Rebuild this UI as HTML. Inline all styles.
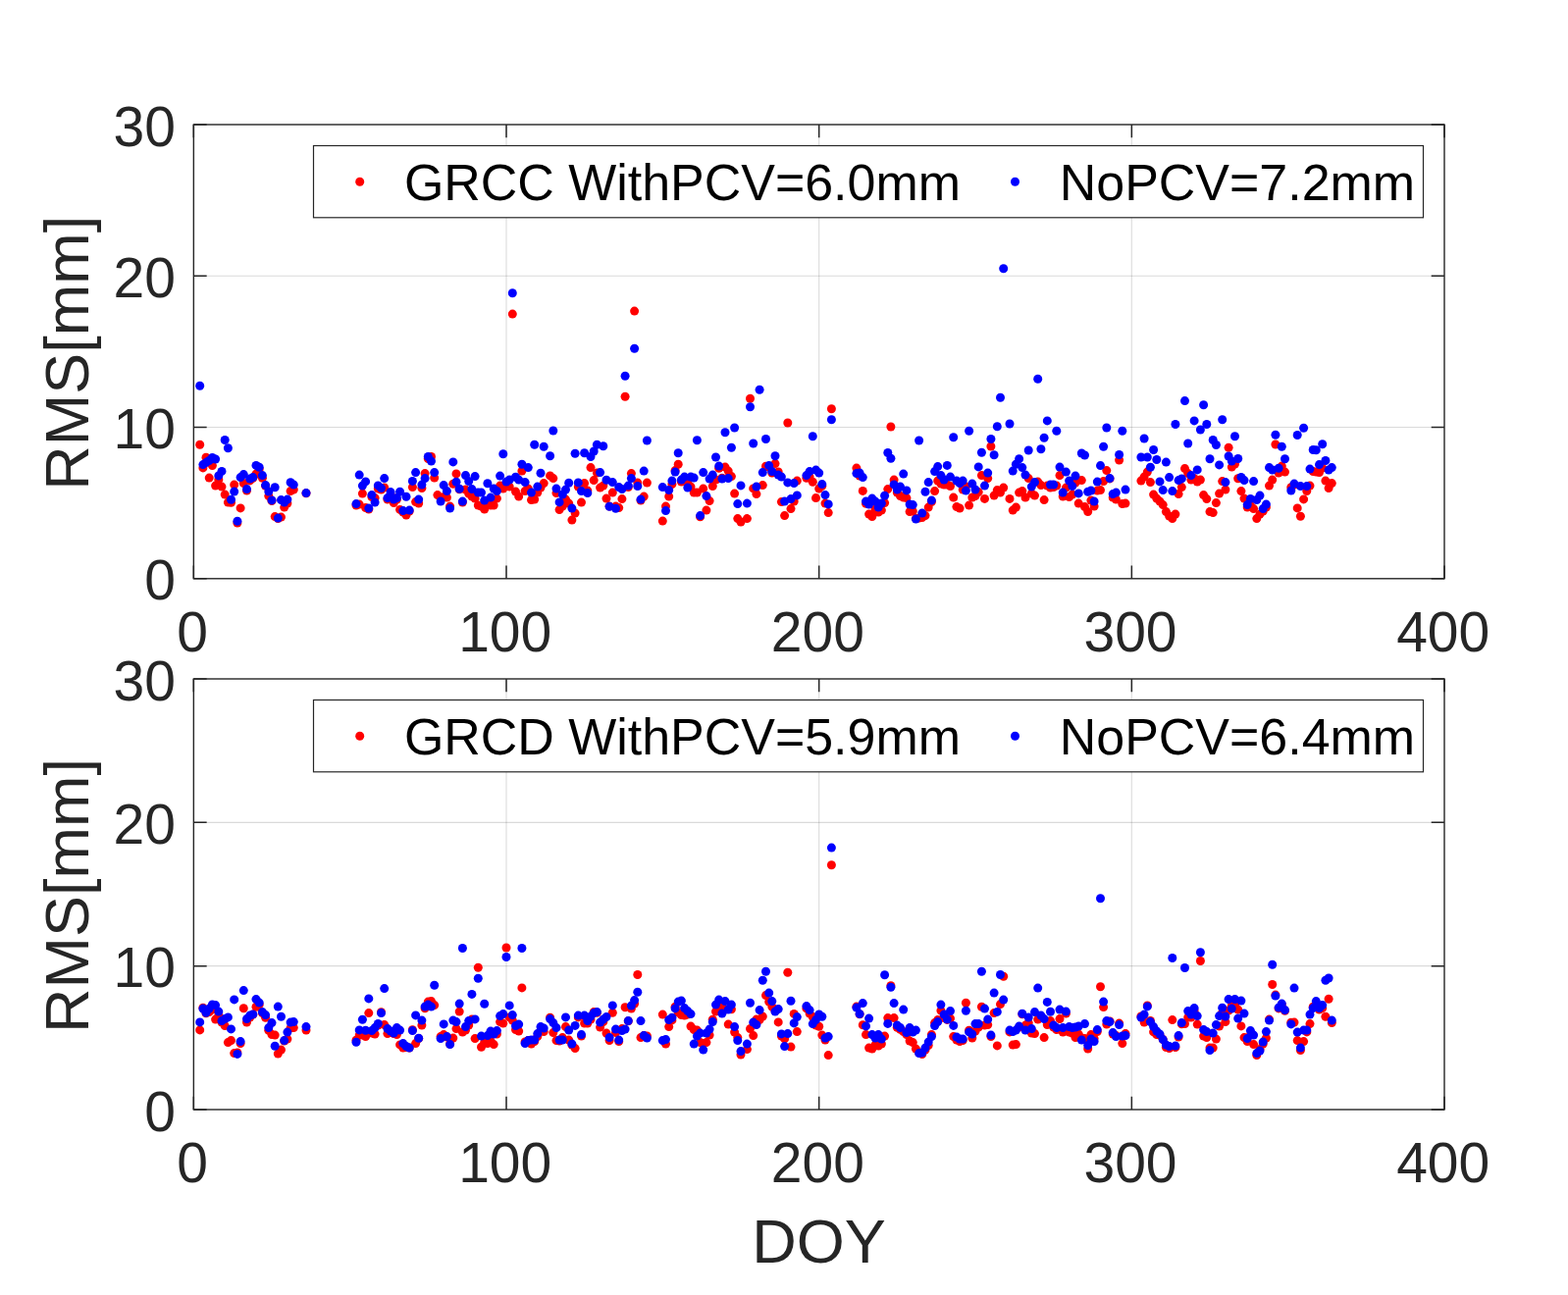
<!DOCTYPE html>
<html lang="en"><head><meta charset="utf-8"><title>RMS vs DOY</title>
<style>html,body{margin:0;padding:0;background:#fff;overflow:hidden;}svg{display:block;}text{font-family:"Liberation Sans", sans-serif;}.tk{font-size:57px;fill:#262626;}.lb{font-size:63px;fill:#262626;}.lg{font-size:51.95px;fill:#000;}.r{fill:#ff0000;}.b{fill:#0000ff;}</style></head><body>
<svg width="1598" height="1320" viewBox="0 0 1598 1320">
<rect x="0" y="0" width="1598" height="1320" fill="#ffffff"/>
<g>
<path d="M516.01 127.00 V589.80 M834.68 127.00 V589.80 M1153.34 127.00 V589.80" stroke="#262626" stroke-opacity="0.15" stroke-width="1.2" fill="none"/>
<path d="M197.35 435.53 H1472.00 M197.35 281.27 H1472.00" stroke="#262626" stroke-opacity="0.17" stroke-width="1.1" fill="none"/>
<g class="r"><circle cx="203.7" cy="453.3" r="4.5"/><circle cx="206.9" cy="476.9" r="4.5"/><circle cx="210.0" cy="466.2" r="4.5"/><circle cx="213.2" cy="487.1" r="4.5"/><circle cx="216.4" cy="474.6" r="4.5"/><circle cx="219.6" cy="495.1" r="4.5"/><circle cx="222.8" cy="488.9" r="4.5"/><circle cx="226.0" cy="496.1" r="4.5"/><circle cx="229.2" cy="504.1" r="4.5"/><circle cx="232.4" cy="512.1" r="4.5"/><circle cx="235.5" cy="512.3" r="4.5"/><circle cx="238.7" cy="494.1" r="4.5"/><circle cx="241.9" cy="533.1" r="4.5"/><circle cx="245.1" cy="517.9" r="4.5"/><circle cx="248.3" cy="492.6" r="4.5"/><circle cx="251.5" cy="500.1" r="4.5"/><circle cx="254.7" cy="489.9" r="4.5"/><circle cx="257.8" cy="487.3" r="4.5"/><circle cx="261.0" cy="483.1" r="4.5"/><circle cx="264.2" cy="478.1" r="4.5"/><circle cx="267.4" cy="487.3" r="4.5"/><circle cx="270.6" cy="495.3" r="4.5"/><circle cx="273.8" cy="505.6" r="4.5"/><circle cx="277.0" cy="510.6" r="4.5"/><circle cx="280.2" cy="526.6" r="4.5"/><circle cx="283.3" cy="528.6" r="4.5"/><circle cx="286.5" cy="527.1" r="4.5"/><circle cx="289.7" cy="517.1" r="4.5"/><circle cx="292.9" cy="513.1" r="4.5"/><circle cx="296.1" cy="500.6" r="4.5"/><circle cx="299.3" cy="499.1" r="4.5"/><circle cx="312.0" cy="502.8" r="4.5"/><circle cx="363.0" cy="515.1" r="4.5"/><circle cx="366.2" cy="514.1" r="4.5"/><circle cx="369.4" cy="503.1" r="4.5"/><circle cx="372.6" cy="517.6" r="4.5"/><circle cx="375.8" cy="519.1" r="4.5"/><circle cx="378.9" cy="506.6" r="4.5"/><circle cx="382.1" cy="507.6" r="4.5"/><circle cx="385.3" cy="498.1" r="4.5"/><circle cx="388.5" cy="499.1" r="4.5"/><circle cx="391.7" cy="496.9" r="4.5"/><circle cx="394.9" cy="509.1" r="4.5"/><circle cx="398.1" cy="504.1" r="4.5"/><circle cx="401.3" cy="512.6" r="4.5"/><circle cx="404.4" cy="509.1" r="4.5"/><circle cx="407.6" cy="519.4" r="4.5"/><circle cx="410.8" cy="522.1" r="4.5"/><circle cx="414.0" cy="525.1" r="4.5"/><circle cx="417.2" cy="521.1" r="4.5"/><circle cx="420.4" cy="496.6" r="4.5"/><circle cx="423.6" cy="511.6" r="4.5"/><circle cx="426.7" cy="513.1" r="4.5"/><circle cx="429.9" cy="497.6" r="4.5"/><circle cx="433.1" cy="482.6" r="4.5"/><circle cx="436.3" cy="467.5" r="4.5"/><circle cx="439.5" cy="465.5" r="4.5"/><circle cx="442.7" cy="487.1" r="4.5"/><circle cx="445.9" cy="504.6" r="4.5"/><circle cx="449.1" cy="507.6" r="4.5"/><circle cx="452.2" cy="506.6" r="4.5"/><circle cx="455.4" cy="507.1" r="4.5"/><circle cx="458.6" cy="516.1" r="4.5"/><circle cx="461.8" cy="493.3" r="4.5"/><circle cx="465.0" cy="482.9" r="4.5"/><circle cx="468.2" cy="498.7" r="4.5"/><circle cx="471.4" cy="512.1" r="4.5"/><circle cx="474.5" cy="499.1" r="4.5"/><circle cx="477.7" cy="503.1" r="4.5"/><circle cx="480.9" cy="506.1" r="4.5"/><circle cx="484.1" cy="508.1" r="4.5"/><circle cx="487.3" cy="515.1" r="4.5"/><circle cx="490.5" cy="516.1" r="4.5"/><circle cx="493.7" cy="519.1" r="4.5"/><circle cx="496.9" cy="514.1" r="4.5"/><circle cx="500.0" cy="515.1" r="4.5"/><circle cx="503.2" cy="515.1" r="4.5"/><circle cx="506.4" cy="508.1" r="4.5"/><circle cx="509.6" cy="495.1" r="4.5"/><circle cx="512.8" cy="498.1" r="4.5"/><circle cx="516.0" cy="494.1" r="4.5"/><circle cx="519.2" cy="496.1" r="4.5"/><circle cx="522.3" cy="320.1" r="4.5"/><circle cx="525.5" cy="501.1" r="4.5"/><circle cx="528.7" cy="506.1" r="4.5"/><circle cx="531.9" cy="480.1" r="4.5"/><circle cx="535.1" cy="500.6" r="4.5"/><circle cx="538.3" cy="498.1" r="4.5"/><circle cx="541.5" cy="509.6" r="4.5"/><circle cx="544.7" cy="509.1" r="4.5"/><circle cx="547.8" cy="502.1" r="4.5"/><circle cx="551.0" cy="497.1" r="4.5"/><circle cx="554.2" cy="492.6" r="4.5"/><circle cx="560.6" cy="484.9" r="4.5"/><circle cx="563.8" cy="487.6" r="4.5"/><circle cx="567.0" cy="502.6" r="4.5"/><circle cx="570.1" cy="519.6" r="4.5"/><circle cx="573.3" cy="516.1" r="4.5"/><circle cx="576.5" cy="509.1" r="4.5"/><circle cx="579.7" cy="513.1" r="4.5"/><circle cx="582.9" cy="530.1" r="4.5"/><circle cx="586.1" cy="523.1" r="4.5"/><circle cx="589.3" cy="496.1" r="4.5"/><circle cx="592.5" cy="512.1" r="4.5"/><circle cx="595.6" cy="492.6" r="4.5"/><circle cx="598.8" cy="500.1" r="4.5"/><circle cx="602.0" cy="476.6" r="4.5"/><circle cx="605.2" cy="489.6" r="4.5"/><circle cx="608.4" cy="482.1" r="4.5"/><circle cx="611.6" cy="497.1" r="4.5"/><circle cx="614.8" cy="495.1" r="4.5"/><circle cx="618.0" cy="508.1" r="4.5"/><circle cx="621.1" cy="516.1" r="4.5"/><circle cx="624.3" cy="502.1" r="4.5"/><circle cx="627.5" cy="516.1" r="4.5"/><circle cx="630.7" cy="517.6" r="4.5"/><circle cx="633.9" cy="508.6" r="4.5"/><circle cx="637.1" cy="404.2" r="4.5"/><circle cx="640.3" cy="496.6" r="4.5"/><circle cx="643.4" cy="482.6" r="4.5"/><circle cx="646.6" cy="317.1" r="4.5"/><circle cx="649.8" cy="492.1" r="4.5"/><circle cx="653.0" cy="510.1" r="4.5"/><circle cx="656.2" cy="506.1" r="4.5"/><circle cx="659.4" cy="492.1" r="4.5"/><circle cx="675.3" cy="531.1" r="4.5"/><circle cx="678.5" cy="516.1" r="4.5"/><circle cx="681.7" cy="506.1" r="4.5"/><circle cx="684.9" cy="493.6" r="4.5"/><circle cx="688.1" cy="479.6" r="4.5"/><circle cx="691.2" cy="473.3" r="4.5"/><circle cx="694.4" cy="491.1" r="4.5"/><circle cx="697.6" cy="490.1" r="4.5"/><circle cx="700.8" cy="492.6" r="4.5"/><circle cx="704.0" cy="496.1" r="4.5"/><circle cx="707.2" cy="502.1" r="4.5"/><circle cx="710.4" cy="502.1" r="4.5"/><circle cx="713.6" cy="526.8" r="4.5"/><circle cx="716.7" cy="498.1" r="4.5"/><circle cx="719.9" cy="520.1" r="4.5"/><circle cx="723.1" cy="510.6" r="4.5"/><circle cx="726.3" cy="495.6" r="4.5"/><circle cx="729.5" cy="489.1" r="4.5"/><circle cx="732.7" cy="477.3" r="4.5"/><circle cx="735.9" cy="487.3" r="4.5"/><circle cx="739.0" cy="476.1" r="4.5"/><circle cx="742.2" cy="480.1" r="4.5"/><circle cx="745.4" cy="485.6" r="4.5"/><circle cx="748.6" cy="503.1" r="4.5"/><circle cx="751.8" cy="528.6" r="4.5"/><circle cx="755.0" cy="532.1" r="4.5"/><circle cx="761.4" cy="528.6" r="4.5"/><circle cx="764.5" cy="406.2" r="4.5"/><circle cx="767.7" cy="497.9" r="4.5"/><circle cx="770.9" cy="503.6" r="4.5"/><circle cx="777.3" cy="494.6" r="4.5"/><circle cx="780.5" cy="475.3" r="4.5"/><circle cx="783.7" cy="476.1" r="4.5"/><circle cx="786.8" cy="482.1" r="4.5"/><circle cx="790.0" cy="472.6" r="4.5"/><circle cx="793.2" cy="480.9" r="4.5"/><circle cx="796.4" cy="511.6" r="4.5"/><circle cx="799.6" cy="525.6" r="4.5"/><circle cx="802.8" cy="431.0" r="4.5"/><circle cx="806.0" cy="518.6" r="4.5"/><circle cx="809.2" cy="511.1" r="4.5"/><circle cx="812.3" cy="490.1" r="4.5"/><circle cx="821.9" cy="487.3" r="4.5"/><circle cx="825.1" cy="486.1" r="4.5"/><circle cx="828.3" cy="491.3" r="4.5"/><circle cx="831.5" cy="507.6" r="4.5"/><circle cx="834.7" cy="498.1" r="4.5"/><circle cx="837.8" cy="495.3" r="4.5"/><circle cx="841.0" cy="513.1" r="4.5"/><circle cx="844.2" cy="522.6" r="4.5"/><circle cx="847.4" cy="416.8" r="4.5"/><circle cx="872.9" cy="477.1" r="4.5"/><circle cx="876.1" cy="485.1" r="4.5"/><circle cx="879.3" cy="500.4" r="4.5"/><circle cx="882.5" cy="513.3" r="4.5"/><circle cx="885.6" cy="524.1" r="4.5"/><circle cx="888.8" cy="526.6" r="4.5"/><circle cx="892.0" cy="519.1" r="4.5"/><circle cx="895.2" cy="522.1" r="4.5"/><circle cx="898.4" cy="520.1" r="4.5"/><circle cx="901.6" cy="512.6" r="4.5"/><circle cx="904.8" cy="498.6" r="4.5"/><circle cx="907.9" cy="435.0" r="4.5"/><circle cx="911.1" cy="489.1" r="4.5"/><circle cx="914.3" cy="502.1" r="4.5"/><circle cx="917.5" cy="505.6" r="4.5"/><circle cx="920.7" cy="507.1" r="4.5"/><circle cx="923.9" cy="507.6" r="4.5"/><circle cx="927.1" cy="521.6" r="4.5"/><circle cx="930.3" cy="521.1" r="4.5"/><circle cx="933.4" cy="528.6" r="4.5"/><circle cx="936.6" cy="528.1" r="4.5"/><circle cx="939.8" cy="527.6" r="4.5"/><circle cx="943.0" cy="525.6" r="4.5"/><circle cx="946.2" cy="517.1" r="4.5"/><circle cx="949.4" cy="511.6" r="4.5"/><circle cx="952.6" cy="500.6" r="4.5"/><circle cx="955.7" cy="490.1" r="4.5"/><circle cx="958.9" cy="493.1" r="4.5"/><circle cx="962.1" cy="494.1" r="4.5"/><circle cx="965.3" cy="494.1" r="4.5"/><circle cx="968.5" cy="495.6" r="4.5"/><circle cx="971.7" cy="507.1" r="4.5"/><circle cx="974.9" cy="516.6" r="4.5"/><circle cx="978.1" cy="518.1" r="4.5"/><circle cx="981.2" cy="499.1" r="4.5"/><circle cx="984.4" cy="496.1" r="4.5"/><circle cx="987.6" cy="515.1" r="4.5"/><circle cx="990.8" cy="507.1" r="4.5"/><circle cx="994.0" cy="505.6" r="4.5"/><circle cx="997.2" cy="501.6" r="4.5"/><circle cx="1000.4" cy="484.6" r="4.5"/><circle cx="1003.5" cy="508.4" r="4.5"/><circle cx="1006.7" cy="487.6" r="4.5"/><circle cx="1009.9" cy="455.0" r="4.5"/><circle cx="1013.1" cy="505.1" r="4.5"/><circle cx="1016.3" cy="499.6" r="4.5"/><circle cx="1019.5" cy="502.1" r="4.5"/><circle cx="1022.7" cy="497.1" r="4.5"/><circle cx="1029.0" cy="508.4" r="4.5"/><circle cx="1032.2" cy="520.1" r="4.5"/><circle cx="1035.4" cy="517.1" r="4.5"/><circle cx="1038.6" cy="502.1" r="4.5"/><circle cx="1041.8" cy="500.6" r="4.5"/><circle cx="1045.0" cy="507.1" r="4.5"/><circle cx="1048.2" cy="487.6" r="4.5"/><circle cx="1051.3" cy="503.1" r="4.5"/><circle cx="1054.5" cy="505.1" r="4.5"/><circle cx="1057.7" cy="491.1" r="4.5"/><circle cx="1060.9" cy="494.6" r="4.5"/><circle cx="1064.1" cy="509.6" r="4.5"/><circle cx="1067.3" cy="495.1" r="4.5"/><circle cx="1070.5" cy="497.1" r="4.5"/><circle cx="1073.7" cy="496.6" r="4.5"/><circle cx="1076.8" cy="495.1" r="4.5"/><circle cx="1080.0" cy="484.6" r="4.5"/><circle cx="1083.2" cy="506.1" r="4.5"/><circle cx="1086.4" cy="497.1" r="4.5"/><circle cx="1089.6" cy="506.6" r="4.5"/><circle cx="1092.8" cy="504.1" r="4.5"/><circle cx="1096.0" cy="492.1" r="4.5"/><circle cx="1099.2" cy="513.1" r="4.5"/><circle cx="1102.3" cy="489.6" r="4.5"/><circle cx="1105.5" cy="516.6" r="4.5"/><circle cx="1108.7" cy="521.6" r="4.5"/><circle cx="1111.9" cy="510.1" r="4.5"/><circle cx="1115.1" cy="516.1" r="4.5"/><circle cx="1118.3" cy="500.1" r="4.5"/><circle cx="1121.5" cy="499.6" r="4.5"/><circle cx="1124.6" cy="490.6" r="4.5"/><circle cx="1127.8" cy="479.6" r="4.5"/><circle cx="1131.0" cy="487.9" r="4.5"/><circle cx="1134.2" cy="507.1" r="4.5"/><circle cx="1137.4" cy="509.1" r="4.5"/><circle cx="1140.6" cy="469.0" r="4.5"/><circle cx="1143.8" cy="513.6" r="4.5"/><circle cx="1147.0" cy="513.1" r="4.5"/><circle cx="1162.9" cy="490.1" r="4.5"/><circle cx="1166.1" cy="486.1" r="4.5"/><circle cx="1169.3" cy="481.1" r="4.5"/><circle cx="1172.4" cy="491.6" r="4.5"/><circle cx="1175.6" cy="504.1" r="4.5"/><circle cx="1178.8" cy="508.1" r="4.5"/><circle cx="1182.0" cy="511.1" r="4.5"/><circle cx="1185.2" cy="514.6" r="4.5"/><circle cx="1188.4" cy="521.6" r="4.5"/><circle cx="1191.6" cy="526.1" r="4.5"/><circle cx="1194.8" cy="528.6" r="4.5"/><circle cx="1197.9" cy="524.1" r="4.5"/><circle cx="1201.1" cy="503.6" r="4.5"/><circle cx="1204.3" cy="496.6" r="4.5"/><circle cx="1207.5" cy="477.6" r="4.5"/><circle cx="1210.7" cy="482.6" r="4.5"/><circle cx="1213.9" cy="489.1" r="4.5"/><circle cx="1217.1" cy="487.6" r="4.5"/><circle cx="1220.2" cy="491.1" r="4.5"/><circle cx="1223.4" cy="489.1" r="4.5"/><circle cx="1226.6" cy="504.6" r="4.5"/><circle cx="1229.8" cy="508.6" r="4.5"/><circle cx="1233.0" cy="521.6" r="4.5"/><circle cx="1236.2" cy="522.6" r="4.5"/><circle cx="1239.4" cy="512.6" r="4.5"/><circle cx="1242.6" cy="503.1" r="4.5"/><circle cx="1245.7" cy="490.6" r="4.5"/><circle cx="1248.9" cy="499.1" r="4.5"/><circle cx="1252.1" cy="456.3" r="4.5"/><circle cx="1255.3" cy="476.1" r="4.5"/><circle cx="1258.5" cy="473.1" r="4.5"/><circle cx="1261.7" cy="487.8" r="4.5"/><circle cx="1264.9" cy="500.6" r="4.5"/><circle cx="1268.0" cy="508.1" r="4.5"/><circle cx="1271.2" cy="517.1" r="4.5"/><circle cx="1274.4" cy="515.1" r="4.5"/><circle cx="1277.6" cy="518.6" r="4.5"/><circle cx="1280.8" cy="528.6" r="4.5"/><circle cx="1284.0" cy="524.1" r="4.5"/><circle cx="1287.2" cy="521.1" r="4.5"/><circle cx="1290.4" cy="517.1" r="4.5"/><circle cx="1293.5" cy="495.1" r="4.5"/><circle cx="1296.7" cy="489.1" r="4.5"/><circle cx="1299.9" cy="453.0" r="4.5"/><circle cx="1303.1" cy="482.1" r="4.5"/><circle cx="1306.3" cy="475.1" r="4.5"/><circle cx="1309.5" cy="481.1" r="4.5"/><circle cx="1315.8" cy="496.8" r="4.5"/><circle cx="1319.0" cy="494.1" r="4.5"/><circle cx="1322.2" cy="517.9" r="4.5"/><circle cx="1325.4" cy="526.3" r="4.5"/><circle cx="1328.6" cy="508.9" r="4.5"/><circle cx="1331.8" cy="500.6" r="4.5"/><circle cx="1335.0" cy="495.1" r="4.5"/><circle cx="1338.2" cy="480.6" r="4.5"/><circle cx="1341.3" cy="481.1" r="4.5"/><circle cx="1344.5" cy="481.6" r="4.5"/><circle cx="1347.7" cy="477.1" r="4.5"/><circle cx="1350.9" cy="490.1" r="4.5"/><circle cx="1354.1" cy="497.6" r="4.5"/><circle cx="1357.3" cy="492.6" r="4.5"/></g>
<g class="b"><circle cx="203.7" cy="393.3" r="4.5"/><circle cx="206.9" cy="473.6" r="4.5"/><circle cx="210.0" cy="471.6" r="4.5"/><circle cx="213.2" cy="469.5" r="4.5"/><circle cx="216.4" cy="466.5" r="4.5"/><circle cx="219.6" cy="468.0" r="4.5"/><circle cx="222.8" cy="484.9" r="4.5"/><circle cx="226.0" cy="480.4" r="4.5"/><circle cx="229.2" cy="448.5" r="4.5"/><circle cx="232.4" cy="456.8" r="4.5"/><circle cx="235.5" cy="509.3" r="4.5"/><circle cx="238.7" cy="501.1" r="4.5"/><circle cx="241.9" cy="531.3" r="4.5"/><circle cx="245.1" cy="486.6" r="4.5"/><circle cx="248.3" cy="483.6" r="4.5"/><circle cx="251.5" cy="498.6" r="4.5"/><circle cx="254.7" cy="488.1" r="4.5"/><circle cx="257.8" cy="486.6" r="4.5"/><circle cx="261.0" cy="474.4" r="4.5"/><circle cx="264.2" cy="476.3" r="4.5"/><circle cx="267.4" cy="484.6" r="4.5"/><circle cx="270.6" cy="494.6" r="4.5"/><circle cx="273.8" cy="501.1" r="4.5"/><circle cx="277.0" cy="509.9" r="4.5"/><circle cx="280.2" cy="496.8" r="4.5"/><circle cx="283.3" cy="528.1" r="4.5"/><circle cx="286.5" cy="509.6" r="4.5"/><circle cx="289.7" cy="512.1" r="4.5"/><circle cx="292.9" cy="509.1" r="4.5"/><circle cx="296.1" cy="491.8" r="4.5"/><circle cx="299.3" cy="494.1" r="4.5"/><circle cx="312.0" cy="502.6" r="4.5"/><circle cx="363.0" cy="513.6" r="4.5"/><circle cx="366.2" cy="484.1" r="4.5"/><circle cx="369.4" cy="495.1" r="4.5"/><circle cx="372.6" cy="490.9" r="4.5"/><circle cx="375.8" cy="518.1" r="4.5"/><circle cx="378.9" cy="504.6" r="4.5"/><circle cx="382.1" cy="512.1" r="4.5"/><circle cx="385.3" cy="494.9" r="4.5"/><circle cx="388.5" cy="497.6" r="4.5"/><circle cx="391.7" cy="487.6" r="4.5"/><circle cx="394.9" cy="507.6" r="4.5"/><circle cx="398.1" cy="501.6" r="4.5"/><circle cx="401.3" cy="509.1" r="4.5"/><circle cx="404.4" cy="507.6" r="4.5"/><circle cx="407.6" cy="501.3" r="4.5"/><circle cx="410.8" cy="520.6" r="4.5"/><circle cx="414.0" cy="506.3" r="4.5"/><circle cx="417.2" cy="520.1" r="4.5"/><circle cx="420.4" cy="490.4" r="4.5"/><circle cx="423.6" cy="481.6" r="4.5"/><circle cx="426.7" cy="509.1" r="4.5"/><circle cx="429.9" cy="494.1" r="4.5"/><circle cx="433.1" cy="487.6" r="4.5"/><circle cx="436.3" cy="465.5" r="4.5"/><circle cx="439.5" cy="470.1" r="4.5"/><circle cx="442.7" cy="481.6" r="4.5"/><circle cx="449.1" cy="511.1" r="4.5"/><circle cx="452.2" cy="494.6" r="4.5"/><circle cx="455.4" cy="500.6" r="4.5"/><circle cx="458.6" cy="518.1" r="4.5"/><circle cx="461.8" cy="470.9" r="4.5"/><circle cx="465.0" cy="491.3" r="4.5"/><circle cx="468.2" cy="498.3" r="4.5"/><circle cx="471.4" cy="511.1" r="4.5"/><circle cx="474.5" cy="484.6" r="4.5"/><circle cx="477.7" cy="490.6" r="4.5"/><circle cx="480.9" cy="498.6" r="4.5"/><circle cx="484.1" cy="485.6" r="4.5"/><circle cx="487.3" cy="502.1" r="4.5"/><circle cx="490.5" cy="502.1" r="4.5"/><circle cx="493.7" cy="510.1" r="4.5"/><circle cx="496.9" cy="492.8" r="4.5"/><circle cx="500.0" cy="507.1" r="4.5"/><circle cx="503.2" cy="498.1" r="4.5"/><circle cx="506.4" cy="500.6" r="4.5"/><circle cx="509.6" cy="485.1" r="4.5"/><circle cx="512.8" cy="462.8" r="4.5"/><circle cx="516.0" cy="491.1" r="4.5"/><circle cx="519.2" cy="489.1" r="4.5"/><circle cx="522.3" cy="298.7" r="4.5"/><circle cx="525.5" cy="486.3" r="4.5"/><circle cx="528.7" cy="489.1" r="4.5"/><circle cx="531.9" cy="473.3" r="4.5"/><circle cx="535.1" cy="491.6" r="4.5"/><circle cx="538.3" cy="476.6" r="4.5"/><circle cx="541.5" cy="502.1" r="4.5"/><circle cx="544.7" cy="453.2" r="4.5"/><circle cx="547.8" cy="496.1" r="4.5"/><circle cx="551.0" cy="482.3" r="4.5"/><circle cx="554.2" cy="455.2" r="4.5"/><circle cx="560.6" cy="464.8" r="4.5"/><circle cx="563.8" cy="439.0" r="4.5"/><circle cx="567.0" cy="498.1" r="4.5"/><circle cx="570.1" cy="511.9" r="4.5"/><circle cx="573.3" cy="504.1" r="4.5"/><circle cx="576.5" cy="499.1" r="4.5"/><circle cx="579.7" cy="492.3" r="4.5"/><circle cx="582.9" cy="518.1" r="4.5"/><circle cx="586.1" cy="462.2" r="4.5"/><circle cx="589.3" cy="491.9" r="4.5"/><circle cx="592.5" cy="500.6" r="4.5"/><circle cx="595.6" cy="461.8" r="4.5"/><circle cx="598.8" cy="502.6" r="4.5"/><circle cx="602.0" cy="465.5" r="4.5"/><circle cx="605.2" cy="460.0" r="4.5"/><circle cx="608.4" cy="453.2" r="4.5"/><circle cx="611.6" cy="481.6" r="4.5"/><circle cx="614.8" cy="454.8" r="4.5"/><circle cx="618.0" cy="489.3" r="4.5"/><circle cx="621.1" cy="516.3" r="4.5"/><circle cx="624.3" cy="491.6" r="4.5"/><circle cx="627.5" cy="518.3" r="4.5"/><circle cx="630.7" cy="496.6" r="4.5"/><circle cx="633.9" cy="498.6" r="4.5"/><circle cx="637.1" cy="383.2" r="4.5"/><circle cx="640.3" cy="495.1" r="4.5"/><circle cx="643.4" cy="487.6" r="4.5"/><circle cx="646.6" cy="355.2" r="4.5"/><circle cx="649.8" cy="495.6" r="4.5"/><circle cx="653.0" cy="509.1" r="4.5"/><circle cx="656.2" cy="480.1" r="4.5"/><circle cx="659.4" cy="449.0" r="4.5"/><circle cx="675.3" cy="496.6" r="4.5"/><circle cx="678.5" cy="520.6" r="4.5"/><circle cx="681.7" cy="499.6" r="4.5"/><circle cx="684.9" cy="490.1" r="4.5"/><circle cx="688.1" cy="481.1" r="4.5"/><circle cx="691.2" cy="461.8" r="4.5"/><circle cx="694.4" cy="489.1" r="4.5"/><circle cx="697.6" cy="486.1" r="4.5"/><circle cx="700.8" cy="497.1" r="4.5"/><circle cx="704.0" cy="486.1" r="4.5"/><circle cx="707.2" cy="487.1" r="4.5"/><circle cx="710.4" cy="448.8" r="4.5"/><circle cx="713.6" cy="525.6" r="4.5"/><circle cx="716.7" cy="481.6" r="4.5"/><circle cx="719.9" cy="505.6" r="4.5"/><circle cx="723.1" cy="488.1" r="4.5"/><circle cx="726.3" cy="484.1" r="4.5"/><circle cx="729.5" cy="466.0" r="4.5"/><circle cx="732.7" cy="475.1" r="4.5"/><circle cx="735.9" cy="488.1" r="4.5"/><circle cx="739.0" cy="440.8" r="4.5"/><circle cx="742.2" cy="487.6" r="4.5"/><circle cx="745.4" cy="456.2" r="4.5"/><circle cx="748.6" cy="436.0" r="4.5"/><circle cx="751.8" cy="513.6" r="4.5"/><circle cx="755.0" cy="494.9" r="4.5"/><circle cx="761.4" cy="513.1" r="4.5"/><circle cx="764.5" cy="414.8" r="4.5"/><circle cx="767.7" cy="452.0" r="4.5"/><circle cx="770.9" cy="496.1" r="4.5"/><circle cx="774.1" cy="397.2" r="4.5"/><circle cx="777.3" cy="481.6" r="4.5"/><circle cx="780.5" cy="447.5" r="4.5"/><circle cx="783.7" cy="474.6" r="4.5"/><circle cx="786.8" cy="480.6" r="4.5"/><circle cx="790.0" cy="464.8" r="4.5"/><circle cx="793.2" cy="484.1" r="4.5"/><circle cx="796.4" cy="486.1" r="4.5"/><circle cx="799.6" cy="511.1" r="4.5"/><circle cx="802.8" cy="491.9" r="4.5"/><circle cx="806.0" cy="508.6" r="4.5"/><circle cx="809.2" cy="492.6" r="4.5"/><circle cx="812.3" cy="504.9" r="4.5"/><circle cx="821.9" cy="484.6" r="4.5"/><circle cx="825.1" cy="480.6" r="4.5"/><circle cx="828.3" cy="444.8" r="4.5"/><circle cx="831.5" cy="479.1" r="4.5"/><circle cx="834.7" cy="482.1" r="4.5"/><circle cx="837.8" cy="493.6" r="4.5"/><circle cx="841.0" cy="504.6" r="4.5"/><circle cx="844.2" cy="513.9" r="4.5"/><circle cx="847.4" cy="427.7" r="4.5"/><circle cx="872.9" cy="482.6" r="4.5"/><circle cx="876.1" cy="482.1" r="4.5"/><circle cx="879.3" cy="486.6" r="4.5"/><circle cx="882.5" cy="511.1" r="4.5"/><circle cx="885.6" cy="514.1" r="4.5"/><circle cx="888.8" cy="508.1" r="4.5"/><circle cx="892.0" cy="511.1" r="4.5"/><circle cx="895.2" cy="517.1" r="4.5"/><circle cx="898.4" cy="513.1" r="4.5"/><circle cx="901.6" cy="505.3" r="4.5"/><circle cx="904.8" cy="461.5" r="4.5"/><circle cx="907.9" cy="467.2" r="4.5"/><circle cx="911.1" cy="493.9" r="4.5"/><circle cx="914.3" cy="499.1" r="4.5"/><circle cx="917.5" cy="496.1" r="4.5"/><circle cx="920.7" cy="483.1" r="4.5"/><circle cx="923.9" cy="499.9" r="4.5"/><circle cx="927.1" cy="514.1" r="4.5"/><circle cx="930.3" cy="514.6" r="4.5"/><circle cx="933.4" cy="529.1" r="4.5"/><circle cx="936.6" cy="449.0" r="4.5"/><circle cx="939.8" cy="523.1" r="4.5"/><circle cx="943.0" cy="501.3" r="4.5"/><circle cx="946.2" cy="491.6" r="4.5"/><circle cx="949.4" cy="510.1" r="4.5"/><circle cx="952.6" cy="480.6" r="4.5"/><circle cx="955.7" cy="475.6" r="4.5"/><circle cx="958.9" cy="484.6" r="4.5"/><circle cx="962.1" cy="489.1" r="4.5"/><circle cx="965.3" cy="474.4" r="4.5"/><circle cx="968.5" cy="486.1" r="4.5"/><circle cx="971.7" cy="445.8" r="4.5"/><circle cx="974.9" cy="490.1" r="4.5"/><circle cx="978.1" cy="492.6" r="4.5"/><circle cx="981.2" cy="490.1" r="4.5"/><circle cx="984.4" cy="500.1" r="4.5"/><circle cx="987.6" cy="439.2" r="4.5"/><circle cx="990.8" cy="493.1" r="4.5"/><circle cx="994.0" cy="499.1" r="4.5"/><circle cx="997.2" cy="475.9" r="4.5"/><circle cx="1000.4" cy="461.3" r="4.5"/><circle cx="1003.5" cy="495.1" r="4.5"/><circle cx="1006.7" cy="482.1" r="4.5"/><circle cx="1009.9" cy="447.5" r="4.5"/><circle cx="1013.1" cy="463.8" r="4.5"/><circle cx="1016.3" cy="434.8" r="4.5"/><circle cx="1019.5" cy="405.2" r="4.5"/><circle cx="1022.7" cy="273.7" r="4.5"/><circle cx="1029.0" cy="432.0" r="4.5"/><circle cx="1032.2" cy="480.1" r="4.5"/><circle cx="1035.4" cy="473.3" r="4.5"/><circle cx="1038.6" cy="467.8" r="4.5"/><circle cx="1041.8" cy="476.6" r="4.5"/><circle cx="1045.0" cy="484.1" r="4.5"/><circle cx="1048.2" cy="459.0" r="4.5"/><circle cx="1051.3" cy="496.1" r="4.5"/><circle cx="1054.5" cy="491.6" r="4.5"/><circle cx="1057.7" cy="386.2" r="4.5"/><circle cx="1060.9" cy="457.8" r="4.5"/><circle cx="1064.1" cy="446.3" r="4.5"/><circle cx="1067.3" cy="428.9" r="4.5"/><circle cx="1070.5" cy="494.1" r="4.5"/><circle cx="1073.7" cy="494.1" r="4.5"/><circle cx="1076.8" cy="439.2" r="4.5"/><circle cx="1080.0" cy="476.1" r="4.5"/><circle cx="1083.2" cy="502.1" r="4.5"/><circle cx="1086.4" cy="481.1" r="4.5"/><circle cx="1089.6" cy="490.1" r="4.5"/><circle cx="1092.8" cy="495.6" r="4.5"/><circle cx="1096.0" cy="485.1" r="4.5"/><circle cx="1099.2" cy="502.9" r="4.5"/><circle cx="1102.3" cy="462.0" r="4.5"/><circle cx="1105.5" cy="464.0" r="4.5"/><circle cx="1108.7" cy="501.3" r="4.5"/><circle cx="1111.9" cy="500.1" r="4.5"/><circle cx="1115.1" cy="511.1" r="4.5"/><circle cx="1118.3" cy="491.1" r="4.5"/><circle cx="1121.5" cy="474.6" r="4.5"/><circle cx="1124.6" cy="455.3" r="4.5"/><circle cx="1127.8" cy="436.0" r="4.5"/><circle cx="1131.0" cy="487.6" r="4.5"/><circle cx="1134.2" cy="503.6" r="4.5"/><circle cx="1137.4" cy="502.1" r="4.5"/><circle cx="1140.6" cy="463.5" r="4.5"/><circle cx="1143.8" cy="439.2" r="4.5"/><circle cx="1147.0" cy="499.1" r="4.5"/><circle cx="1162.9" cy="466.0" r="4.5"/><circle cx="1166.1" cy="447.0" r="4.5"/><circle cx="1169.3" cy="466.0" r="4.5"/><circle cx="1172.4" cy="476.3" r="4.5"/><circle cx="1175.6" cy="458.5" r="4.5"/><circle cx="1178.8" cy="468.5" r="4.5"/><circle cx="1182.0" cy="490.9" r="4.5"/><circle cx="1185.2" cy="499.6" r="4.5"/><circle cx="1188.4" cy="471.1" r="4.5"/><circle cx="1191.6" cy="486.6" r="4.5"/><circle cx="1194.8" cy="500.6" r="4.5"/><circle cx="1197.9" cy="432.5" r="4.5"/><circle cx="1201.1" cy="489.6" r="4.5"/><circle cx="1204.3" cy="487.9" r="4.5"/><circle cx="1207.5" cy="408.6" r="4.5"/><circle cx="1210.7" cy="452.0" r="4.5"/><circle cx="1213.9" cy="484.6" r="4.5"/><circle cx="1217.1" cy="428.9" r="4.5"/><circle cx="1220.2" cy="478.9" r="4.5"/><circle cx="1223.4" cy="438.0" r="4.5"/><circle cx="1226.6" cy="412.8" r="4.5"/><circle cx="1229.8" cy="432.5" r="4.5"/><circle cx="1233.0" cy="467.8" r="4.5"/><circle cx="1236.2" cy="448.5" r="4.5"/><circle cx="1239.4" cy="453.5" r="4.5"/><circle cx="1242.6" cy="473.9" r="4.5"/><circle cx="1245.7" cy="427.7" r="4.5"/><circle cx="1248.9" cy="491.6" r="4.5"/><circle cx="1252.1" cy="465.0" r="4.5"/><circle cx="1255.3" cy="470.1" r="4.5"/><circle cx="1258.5" cy="444.8" r="4.5"/><circle cx="1261.7" cy="467.5" r="4.5"/><circle cx="1264.9" cy="486.4" r="4.5"/><circle cx="1268.0" cy="489.6" r="4.5"/><circle cx="1271.2" cy="514.6" r="4.5"/><circle cx="1274.4" cy="508.4" r="4.5"/><circle cx="1277.6" cy="490.6" r="4.5"/><circle cx="1280.8" cy="509.6" r="4.5"/><circle cx="1284.0" cy="505.1" r="4.5"/><circle cx="1287.2" cy="518.6" r="4.5"/><circle cx="1290.4" cy="514.1" r="4.5"/><circle cx="1293.5" cy="476.6" r="4.5"/><circle cx="1296.7" cy="479.1" r="4.5"/><circle cx="1299.9" cy="443.2" r="4.5"/><circle cx="1303.1" cy="477.3" r="4.5"/><circle cx="1306.3" cy="455.3" r="4.5"/><circle cx="1309.5" cy="467.8" r="4.5"/><circle cx="1315.8" cy="500.1" r="4.5"/><circle cx="1319.0" cy="493.1" r="4.5"/><circle cx="1322.2" cy="443.5" r="4.5"/><circle cx="1325.4" cy="495.6" r="4.5"/><circle cx="1328.6" cy="436.2" r="4.5"/><circle cx="1331.8" cy="495.6" r="4.5"/><circle cx="1335.0" cy="478.1" r="4.5"/><circle cx="1338.2" cy="458.5" r="4.5"/><circle cx="1341.3" cy="458.8" r="4.5"/><circle cx="1344.5" cy="473.6" r="4.5"/><circle cx="1347.7" cy="452.8" r="4.5"/><circle cx="1350.9" cy="469.5" r="4.5"/><circle cx="1354.1" cy="479.1" r="4.5"/><circle cx="1357.3" cy="476.6" r="4.5"/></g>
<rect x="197.35" y="127.00" width="1274.65" height="462.80" fill="none" stroke="#262626" stroke-opacity="1" stroke-width="1.4"/>
<path d="M197.35 589.80 v-13.3 M197.35 127.00 v13.3 M516.01 589.80 v-13.3 M516.01 127.00 v13.3 M834.68 589.80 v-13.3 M834.68 127.00 v13.3 M1153.34 589.80 v-13.3 M1153.34 127.00 v13.3 M1472.00 589.80 v-13.3 M1472.00 127.00 v13.3 M197.35 589.80 h13.3 M1472.00 589.80 h-13.3 M197.35 435.53 h13.3 M1472.00 435.53 h-13.3 M197.35 281.27 h13.3 M1472.00 281.27 h-13.3 M197.35 127.00 h13.3 M1472.00 127.00 h-13.3" stroke="#262626" stroke-opacity="1" stroke-width="1.5" fill="none"/>
<text class="tk" x="196.0" y="664.0" text-anchor="middle">0</text>
<text class="tk" x="514.7" y="664.0" text-anchor="middle">100</text>
<text class="tk" x="833.4" y="664.0" text-anchor="middle">200</text>
<text class="tk" x="1152.0" y="664.0" text-anchor="middle">300</text>
<text class="tk" x="1470.7" y="664.0" text-anchor="middle">400</text>
<text class="tk" x="179.0" y="611.4" text-anchor="end">0</text>
<text class="tk" x="179.0" y="457.1" text-anchor="end">10</text>
<text class="tk" x="179.0" y="302.9" text-anchor="end">20</text>
<text class="tk" x="179.0" y="148.6" text-anchor="end">30</text>
<text class="lb" transform="translate(90.3 359.8) rotate(-90)" text-anchor="middle">RMS[mm]</text>
<rect x="319.5" y="148.5" width="1131" height="73.3" fill="#ffffff" stroke="#262626" stroke-width="1.2"/>
<circle class="r" cx="366.7" cy="185.2" r="4.5"/>
<text class="lg" x="411.9" y="204.3">GRCC WithPCV=6.0mm</text>
<circle class="b" cx="1034.5" cy="185.2" r="4.5"/>
<text class="lg" x="1079.8" y="204.3">NoPCV=7.2mm</text>
</g>
<g>
<path d="M516.01 692.00 V1131.00 M834.68 692.00 V1131.00 M1153.34 692.00 V1131.00" stroke="#262626" stroke-opacity="0.15" stroke-width="1.2" fill="none"/>
<path d="M197.35 984.67 H1472.00 M197.35 838.33 H1472.00" stroke="#262626" stroke-opacity="0.17" stroke-width="1.1" fill="none"/>
<g class="r"><circle cx="203.7" cy="1049.9" r="4.5"/><circle cx="206.9" cy="1027.3" r="4.5"/><circle cx="210.0" cy="1032.7" r="4.5"/><circle cx="213.2" cy="1031.6" r="4.5"/><circle cx="216.4" cy="1029.1" r="4.5"/><circle cx="219.6" cy="1039.1" r="4.5"/><circle cx="222.8" cy="1035.1" r="4.5"/><circle cx="226.0" cy="1042.1" r="4.5"/><circle cx="229.2" cy="1045.6" r="4.5"/><circle cx="232.4" cy="1062.6" r="4.5"/><circle cx="235.5" cy="1060.6" r="4.5"/><circle cx="238.7" cy="1073.6" r="4.5"/><circle cx="241.9" cy="1072.9" r="4.5"/><circle cx="245.1" cy="1063.6" r="4.5"/><circle cx="248.3" cy="1027.8" r="4.5"/><circle cx="251.5" cy="1042.1" r="4.5"/><circle cx="254.7" cy="1037.1" r="4.5"/><circle cx="257.8" cy="1034.1" r="4.5"/><circle cx="261.0" cy="1026.3" r="4.5"/><circle cx="264.2" cy="1023.9" r="4.5"/><circle cx="267.4" cy="1032.5" r="4.5"/><circle cx="270.6" cy="1037.3" r="4.5"/><circle cx="273.8" cy="1050.3" r="4.5"/><circle cx="277.0" cy="1054.6" r="4.5"/><circle cx="280.2" cy="1055.1" r="4.5"/><circle cx="283.3" cy="1074.1" r="4.5"/><circle cx="286.5" cy="1070.1" r="4.5"/><circle cx="289.7" cy="1061.1" r="4.5"/><circle cx="292.9" cy="1059.1" r="4.5"/><circle cx="296.1" cy="1047.9" r="4.5"/><circle cx="299.3" cy="1047.6" r="4.5"/><circle cx="312.0" cy="1050.1" r="4.5"/><circle cx="363.0" cy="1060.3" r="4.5"/><circle cx="366.2" cy="1055.1" r="4.5"/><circle cx="369.4" cy="1055.1" r="4.5"/><circle cx="372.6" cy="1056.6" r="4.5"/><circle cx="375.8" cy="1032.6" r="4.5"/><circle cx="378.9" cy="1053.1" r="4.5"/><circle cx="382.1" cy="1054.1" r="4.5"/><circle cx="385.3" cy="1045.1" r="4.5"/><circle cx="388.5" cy="1031.8" r="4.5"/><circle cx="391.7" cy="1044.6" r="4.5"/><circle cx="394.9" cy="1053.6" r="4.5"/><circle cx="398.1" cy="1052.1" r="4.5"/><circle cx="401.3" cy="1053.6" r="4.5"/><circle cx="404.4" cy="1054.6" r="4.5"/><circle cx="407.6" cy="1064.9" r="4.5"/><circle cx="410.8" cy="1068.1" r="4.5"/><circle cx="414.0" cy="1067.6" r="4.5"/><circle cx="417.2" cy="1068.1" r="4.5"/><circle cx="420.4" cy="1049.7" r="4.5"/><circle cx="423.6" cy="1063.6" r="4.5"/><circle cx="426.7" cy="1058.6" r="4.5"/><circle cx="429.9" cy="1045.1" r="4.5"/><circle cx="433.1" cy="1027.8" r="4.5"/><circle cx="436.3" cy="1021.1" r="4.5"/><circle cx="439.5" cy="1020.6" r="4.5"/><circle cx="442.7" cy="1024.6" r="4.5"/><circle cx="449.1" cy="1056.6" r="4.5"/><circle cx="452.2" cy="1054.6" r="4.5"/><circle cx="455.4" cy="1057.1" r="4.5"/><circle cx="458.6" cy="1064.1" r="4.5"/><circle cx="461.8" cy="1058.1" r="4.5"/><circle cx="465.0" cy="1048.6" r="4.5"/><circle cx="468.2" cy="1031.1" r="4.5"/><circle cx="471.4" cy="1052.1" r="4.5"/><circle cx="474.5" cy="1050.1" r="4.5"/><circle cx="477.7" cy="1045.1" r="4.5"/><circle cx="480.9" cy="1039.1" r="4.5"/><circle cx="484.1" cy="1058.6" r="4.5"/><circle cx="487.3" cy="986.2" r="4.5"/><circle cx="490.5" cy="1067.3" r="4.5"/><circle cx="493.7" cy="1062.6" r="4.5"/><circle cx="496.9" cy="1063.6" r="4.5"/><circle cx="500.0" cy="1061.1" r="4.5"/><circle cx="503.2" cy="1064.6" r="4.5"/><circle cx="506.4" cy="1054.1" r="4.5"/><circle cx="509.6" cy="1041.6" r="4.5"/><circle cx="512.8" cy="1043.1" r="4.5"/><circle cx="516.0" cy="966.0" r="4.5"/><circle cx="519.2" cy="1036.9" r="4.5"/><circle cx="522.3" cy="1040.1" r="4.5"/><circle cx="525.5" cy="1049.6" r="4.5"/><circle cx="528.7" cy="1051.1" r="4.5"/><circle cx="531.9" cy="1006.9" r="4.5"/><circle cx="535.1" cy="1061.9" r="4.5"/><circle cx="538.3" cy="1060.6" r="4.5"/><circle cx="541.5" cy="1064.1" r="4.5"/><circle cx="544.7" cy="1061.6" r="4.5"/><circle cx="547.8" cy="1056.6" r="4.5"/><circle cx="551.0" cy="1051.1" r="4.5"/><circle cx="554.2" cy="1051.6" r="4.5"/><circle cx="560.6" cy="1037.3" r="4.5"/><circle cx="563.8" cy="1052.6" r="4.5"/><circle cx="567.0" cy="1060.6" r="4.5"/><circle cx="570.1" cy="1061.1" r="4.5"/><circle cx="573.3" cy="1057.6" r="4.5"/><circle cx="576.5" cy="1046.6" r="4.5"/><circle cx="579.7" cy="1060.1" r="4.5"/><circle cx="582.9" cy="1065.1" r="4.5"/><circle cx="586.1" cy="1068.6" r="4.5"/><circle cx="589.3" cy="1036.9" r="4.5"/><circle cx="592.5" cy="1056.1" r="4.5"/><circle cx="595.6" cy="1043.1" r="4.5"/><circle cx="598.8" cy="1043.1" r="4.5"/><circle cx="602.0" cy="1039.1" r="4.5"/><circle cx="605.2" cy="1031.6" r="4.5"/><circle cx="608.4" cy="1032.3" r="4.5"/><circle cx="611.6" cy="1047.1" r="4.5"/><circle cx="614.8" cy="1041.6" r="4.5"/><circle cx="618.0" cy="1053.1" r="4.5"/><circle cx="621.1" cy="1060.6" r="4.5"/><circle cx="624.3" cy="1032.3" r="4.5"/><circle cx="627.5" cy="1052.6" r="4.5"/><circle cx="630.7" cy="1061.6" r="4.5"/><circle cx="633.9" cy="1048.6" r="4.5"/><circle cx="637.1" cy="1026.8" r="4.5"/><circle cx="640.3" cy="1040.7" r="4.5"/><circle cx="643.4" cy="1028.1" r="4.5"/><circle cx="646.6" cy="1023.1" r="4.5"/><circle cx="649.8" cy="993.5" r="4.5"/><circle cx="653.0" cy="1057.6" r="4.5"/><circle cx="656.2" cy="1055.6" r="4.5"/><circle cx="659.4" cy="1055.9" r="4.5"/><circle cx="675.3" cy="1034.1" r="4.5"/><circle cx="678.5" cy="1064.1" r="4.5"/><circle cx="681.7" cy="1046.6" r="4.5"/><circle cx="684.9" cy="1039.9" r="4.5"/><circle cx="688.1" cy="1026.3" r="4.5"/><circle cx="691.2" cy="1032.1" r="4.5"/><circle cx="694.4" cy="1034.6" r="4.5"/><circle cx="697.6" cy="1035.1" r="4.5"/><circle cx="700.8" cy="1034.1" r="4.5"/><circle cx="704.0" cy="1046.1" r="4.5"/><circle cx="707.2" cy="1049.6" r="4.5"/><circle cx="710.4" cy="1050.1" r="4.5"/><circle cx="713.6" cy="1062.6" r="4.5"/><circle cx="716.7" cy="1063.6" r="4.5"/><circle cx="719.9" cy="1062.6" r="4.5"/><circle cx="723.1" cy="1055.1" r="4.5"/><circle cx="726.3" cy="1039.3" r="4.5"/><circle cx="729.5" cy="1031.1" r="4.5"/><circle cx="732.7" cy="1027.1" r="4.5"/><circle cx="735.9" cy="1026.1" r="4.5"/><circle cx="739.0" cy="1029.1" r="4.5"/><circle cx="742.2" cy="1044.1" r="4.5"/><circle cx="745.4" cy="1028.8" r="4.5"/><circle cx="748.6" cy="1052.1" r="4.5"/><circle cx="751.8" cy="1057.6" r="4.5"/><circle cx="755.0" cy="1075.1" r="4.5"/><circle cx="761.4" cy="1069.6" r="4.5"/><circle cx="764.5" cy="1048.6" r="4.5"/><circle cx="767.7" cy="1055.6" r="4.5"/><circle cx="770.9" cy="1039.1" r="4.5"/><circle cx="774.1" cy="1039.6" r="4.5"/><circle cx="777.3" cy="1036.1" r="4.5"/><circle cx="780.5" cy="1014.6" r="4.5"/><circle cx="783.7" cy="1021.1" r="4.5"/><circle cx="786.8" cy="1026.1" r="4.5"/><circle cx="790.0" cy="1030.6" r="4.5"/><circle cx="793.2" cy="1041.9" r="4.5"/><circle cx="796.4" cy="1056.1" r="4.5"/><circle cx="799.6" cy="1058.9" r="4.5"/><circle cx="802.8" cy="991.2" r="4.5"/><circle cx="806.0" cy="1067.1" r="4.5"/><circle cx="809.2" cy="1033.4" r="4.5"/><circle cx="812.3" cy="1051.6" r="4.5"/><circle cx="821.9" cy="1027.9" r="4.5"/><circle cx="825.1" cy="1033.1" r="4.5"/><circle cx="828.3" cy="1036.6" r="4.5"/><circle cx="831.5" cy="1045.1" r="4.5"/><circle cx="834.7" cy="1046.3" r="4.5"/><circle cx="837.8" cy="1055.1" r="4.5"/><circle cx="841.0" cy="1060.1" r="4.5"/><circle cx="844.2" cy="1075.6" r="4.5"/><circle cx="847.4" cy="881.8" r="4.5"/><circle cx="872.9" cy="1026.1" r="4.5"/><circle cx="876.1" cy="1033.7" r="4.5"/><circle cx="879.3" cy="1044.8" r="4.5"/><circle cx="882.5" cy="1054.6" r="4.5"/><circle cx="885.6" cy="1068.1" r="4.5"/><circle cx="888.8" cy="1069.1" r="4.5"/><circle cx="892.0" cy="1065.1" r="4.5"/><circle cx="895.2" cy="1066.1" r="4.5"/><circle cx="898.4" cy="1064.1" r="4.5"/><circle cx="901.6" cy="1056.1" r="4.5"/><circle cx="904.8" cy="1037.6" r="4.5"/><circle cx="907.9" cy="1004.7" r="4.5"/><circle cx="911.1" cy="1037.6" r="4.5"/><circle cx="914.3" cy="1047.3" r="4.5"/><circle cx="917.5" cy="1049.3" r="4.5"/><circle cx="920.7" cy="1051.6" r="4.5"/><circle cx="923.9" cy="1054.6" r="4.5"/><circle cx="927.1" cy="1061.1" r="4.5"/><circle cx="930.3" cy="1062.6" r="4.5"/><circle cx="933.4" cy="1069.1" r="4.5"/><circle cx="936.6" cy="1072.9" r="4.5"/><circle cx="939.8" cy="1074.6" r="4.5"/><circle cx="943.0" cy="1070.1" r="4.5"/><circle cx="946.2" cy="1065.6" r="4.5"/><circle cx="949.4" cy="1054.6" r="4.5"/><circle cx="952.6" cy="1042.6" r="4.5"/><circle cx="955.7" cy="1039.6" r="4.5"/><circle cx="958.9" cy="1030.1" r="4.5"/><circle cx="962.1" cy="1037.6" r="4.5"/><circle cx="965.3" cy="1039.4" r="4.5"/><circle cx="968.5" cy="1038.1" r="4.5"/><circle cx="971.7" cy="1056.6" r="4.5"/><circle cx="974.9" cy="1060.1" r="4.5"/><circle cx="978.1" cy="1061.6" r="4.5"/><circle cx="981.2" cy="1060.6" r="4.5"/><circle cx="984.4" cy="1022.3" r="4.5"/><circle cx="987.6" cy="1050.3" r="4.5"/><circle cx="990.8" cy="1058.1" r="4.5"/><circle cx="994.0" cy="1051.1" r="4.5"/><circle cx="997.2" cy="1047.1" r="4.5"/><circle cx="1000.4" cy="1026.3" r="4.5"/><circle cx="1003.5" cy="1045.1" r="4.5"/><circle cx="1006.7" cy="1044.6" r="4.5"/><circle cx="1009.9" cy="1056.6" r="4.5"/><circle cx="1013.1" cy="1032.6" r="4.5"/><circle cx="1016.3" cy="1065.9" r="4.5"/><circle cx="1019.5" cy="1023.6" r="4.5"/><circle cx="1022.7" cy="995.2" r="4.5"/><circle cx="1029.0" cy="1051.9" r="4.5"/><circle cx="1032.2" cy="1065.1" r="4.5"/><circle cx="1035.4" cy="1064.6" r="4.5"/><circle cx="1038.6" cy="1047.1" r="4.5"/><circle cx="1041.8" cy="1033.7" r="4.5"/><circle cx="1045.0" cy="1045.1" r="4.5"/><circle cx="1048.2" cy="1042.6" r="4.5"/><circle cx="1051.3" cy="1053.1" r="4.5"/><circle cx="1054.5" cy="1053.6" r="4.5"/><circle cx="1057.7" cy="1039.1" r="4.5"/><circle cx="1060.9" cy="1036.1" r="4.5"/><circle cx="1064.1" cy="1057.6" r="4.5"/><circle cx="1067.3" cy="1044.6" r="4.5"/><circle cx="1070.5" cy="1040.6" r="4.5"/><circle cx="1073.7" cy="1047.1" r="4.5"/><circle cx="1076.8" cy="1049.6" r="4.5"/><circle cx="1080.0" cy="1038.6" r="4.5"/><circle cx="1083.2" cy="1052.1" r="4.5"/><circle cx="1086.4" cy="1033.1" r="4.5"/><circle cx="1089.6" cy="1052.1" r="4.5"/><circle cx="1092.8" cy="1053.1" r="4.5"/><circle cx="1096.0" cy="1057.6" r="4.5"/><circle cx="1099.2" cy="1054.1" r="4.5"/><circle cx="1102.3" cy="1058.1" r="4.5"/><circle cx="1105.5" cy="1058.6" r="4.5"/><circle cx="1108.7" cy="1069.1" r="4.5"/><circle cx="1111.9" cy="1054.6" r="4.5"/><circle cx="1115.1" cy="1058.6" r="4.5"/><circle cx="1118.3" cy="1051.6" r="4.5"/><circle cx="1121.5" cy="1005.8" r="4.5"/><circle cx="1124.6" cy="1026.6" r="4.5"/><circle cx="1127.8" cy="1044.1" r="4.5"/><circle cx="1131.0" cy="1040.9" r="4.5"/><circle cx="1134.2" cy="1054.1" r="4.5"/><circle cx="1137.4" cy="1055.6" r="4.5"/><circle cx="1140.6" cy="1043.1" r="4.5"/><circle cx="1143.8" cy="1063.6" r="4.5"/><circle cx="1147.0" cy="1053.6" r="4.5"/><circle cx="1162.9" cy="1035.9" r="4.5"/><circle cx="1166.1" cy="1042.1" r="4.5"/><circle cx="1169.3" cy="1024.9" r="4.5"/><circle cx="1172.4" cy="1040.4" r="4.5"/><circle cx="1175.6" cy="1051.9" r="4.5"/><circle cx="1178.8" cy="1054.6" r="4.5"/><circle cx="1182.0" cy="1055.1" r="4.5"/><circle cx="1185.2" cy="1059.6" r="4.5"/><circle cx="1188.4" cy="1067.6" r="4.5"/><circle cx="1191.6" cy="1068.6" r="4.5"/><circle cx="1194.8" cy="1039.6" r="4.5"/><circle cx="1197.9" cy="1067.6" r="4.5"/><circle cx="1201.1" cy="1057.1" r="4.5"/><circle cx="1204.3" cy="1043.8" r="4.5"/><circle cx="1207.5" cy="1043.6" r="4.5"/><circle cx="1210.7" cy="1037.1" r="4.5"/><circle cx="1213.9" cy="1037.1" r="4.5"/><circle cx="1217.1" cy="1030.1" r="4.5"/><circle cx="1220.2" cy="1044.1" r="4.5"/><circle cx="1223.4" cy="979.5" r="4.5"/><circle cx="1226.6" cy="1056.1" r="4.5"/><circle cx="1229.8" cy="1057.6" r="4.5"/><circle cx="1233.0" cy="1068.1" r="4.5"/><circle cx="1236.2" cy="1068.1" r="4.5"/><circle cx="1239.4" cy="1059.1" r="4.5"/><circle cx="1242.6" cy="1046.1" r="4.5"/><circle cx="1245.7" cy="1032.3" r="4.5"/><circle cx="1248.9" cy="1041.6" r="4.5"/><circle cx="1252.1" cy="1030.1" r="4.5"/><circle cx="1255.3" cy="1024.9" r="4.5"/><circle cx="1258.5" cy="1025.1" r="4.5"/><circle cx="1261.7" cy="1029.1" r="4.5"/><circle cx="1264.9" cy="1045.9" r="4.5"/><circle cx="1268.0" cy="1057.6" r="4.5"/><circle cx="1271.2" cy="1061.6" r="4.5"/><circle cx="1274.4" cy="1055.1" r="4.5"/><circle cx="1277.6" cy="1064.6" r="4.5"/><circle cx="1280.8" cy="1075.6" r="4.5"/><circle cx="1284.0" cy="1069.6" r="4.5"/><circle cx="1287.2" cy="1064.1" r="4.5"/><circle cx="1290.4" cy="1058.1" r="4.5"/><circle cx="1293.5" cy="1039.1" r="4.5"/><circle cx="1296.7" cy="1003.5" r="4.5"/><circle cx="1299.9" cy="1014.1" r="4.5"/><circle cx="1303.1" cy="1027.9" r="4.5"/><circle cx="1306.3" cy="1023.9" r="4.5"/><circle cx="1309.5" cy="1030.3" r="4.5"/><circle cx="1315.8" cy="1042.3" r="4.5"/><circle cx="1319.0" cy="1042.1" r="4.5"/><circle cx="1322.2" cy="1060.6" r="4.5"/><circle cx="1325.4" cy="1070.6" r="4.5"/><circle cx="1328.6" cy="1061.6" r="4.5"/><circle cx="1331.8" cy="1051.9" r="4.5"/><circle cx="1335.0" cy="1043.6" r="4.5"/><circle cx="1338.2" cy="1026.3" r="4.5"/><circle cx="1341.3" cy="1025.1" r="4.5"/><circle cx="1344.5" cy="1029.1" r="4.5"/><circle cx="1347.7" cy="1027.6" r="4.5"/><circle cx="1350.9" cy="1036.3" r="4.5"/><circle cx="1354.1" cy="1018.3" r="4.5"/><circle cx="1357.3" cy="1042.6" r="4.5"/></g>
<g class="b"><circle cx="203.7" cy="1041.9" r="4.5"/><circle cx="206.9" cy="1028.1" r="4.5"/><circle cx="210.0" cy="1032.3" r="4.5"/><circle cx="213.2" cy="1028.1" r="4.5"/><circle cx="216.4" cy="1023.9" r="4.5"/><circle cx="219.6" cy="1024.6" r="4.5"/><circle cx="222.8" cy="1031.1" r="4.5"/><circle cx="226.0" cy="1040.6" r="4.5"/><circle cx="229.2" cy="1038.6" r="4.5"/><circle cx="232.4" cy="1036.9" r="4.5"/><circle cx="235.5" cy="1048.9" r="4.5"/><circle cx="238.7" cy="1018.9" r="4.5"/><circle cx="241.9" cy="1074.4" r="4.5"/><circle cx="245.1" cy="1061.6" r="4.5"/><circle cx="248.3" cy="1009.6" r="4.5"/><circle cx="251.5" cy="1038.6" r="4.5"/><circle cx="254.7" cy="1035.1" r="4.5"/><circle cx="257.8" cy="1033.9" r="4.5"/><circle cx="261.0" cy="1018.6" r="4.5"/><circle cx="264.2" cy="1022.1" r="4.5"/><circle cx="267.4" cy="1031.6" r="4.5"/><circle cx="270.6" cy="1034.6" r="4.5"/><circle cx="273.8" cy="1047.6" r="4.5"/><circle cx="277.0" cy="1042.6" r="4.5"/><circle cx="280.2" cy="1066.3" r="4.5"/><circle cx="283.3" cy="1026.1" r="4.5"/><circle cx="286.5" cy="1036.3" r="4.5"/><circle cx="289.7" cy="1060.6" r="4.5"/><circle cx="292.9" cy="1052.1" r="4.5"/><circle cx="296.1" cy="1042.1" r="4.5"/><circle cx="299.3" cy="1041.6" r="4.5"/><circle cx="312.0" cy="1046.6" r="4.5"/><circle cx="363.0" cy="1062.3" r="4.5"/><circle cx="366.2" cy="1049.9" r="4.5"/><circle cx="369.4" cy="1039.3" r="4.5"/><circle cx="372.6" cy="1050.3" r="4.5"/><circle cx="375.8" cy="1017.9" r="4.5"/><circle cx="378.9" cy="1050.6" r="4.5"/><circle cx="382.1" cy="1047.6" r="4.5"/><circle cx="385.3" cy="1043.4" r="4.5"/><circle cx="388.5" cy="1032.6" r="4.5"/><circle cx="391.7" cy="1007.6" r="4.5"/><circle cx="394.9" cy="1048.6" r="4.5"/><circle cx="398.1" cy="1051.1" r="4.5"/><circle cx="401.3" cy="1053.1" r="4.5"/><circle cx="404.4" cy="1047.6" r="4.5"/><circle cx="407.6" cy="1050.1" r="4.5"/><circle cx="410.8" cy="1063.6" r="4.5"/><circle cx="414.0" cy="1066.6" r="4.5"/><circle cx="417.2" cy="1068.1" r="4.5"/><circle cx="420.4" cy="1050.6" r="4.5"/><circle cx="423.6" cy="1034.9" r="4.5"/><circle cx="426.7" cy="1058.3" r="4.5"/><circle cx="429.9" cy="1040.1" r="4.5"/><circle cx="433.1" cy="1026.1" r="4.5"/><circle cx="436.3" cy="1024.1" r="4.5"/><circle cx="439.5" cy="1026.1" r="4.5"/><circle cx="442.7" cy="1004.3" r="4.5"/><circle cx="449.1" cy="1058.6" r="4.5"/><circle cx="452.2" cy="1043.9" r="4.5"/><circle cx="455.4" cy="1056.6" r="4.5"/><circle cx="458.6" cy="1064.6" r="4.5"/><circle cx="461.8" cy="1040.1" r="4.5"/><circle cx="465.0" cy="1041.6" r="4.5"/><circle cx="468.2" cy="1023.1" r="4.5"/><circle cx="471.4" cy="966.5" r="4.5"/><circle cx="474.5" cy="1046.6" r="4.5"/><circle cx="477.7" cy="1040.6" r="4.5"/><circle cx="480.9" cy="1013.4" r="4.5"/><circle cx="484.1" cy="1038.9" r="4.5"/><circle cx="487.3" cy="997.2" r="4.5"/><circle cx="490.5" cy="1056.1" r="4.5"/><circle cx="493.7" cy="1023.3" r="4.5"/><circle cx="496.9" cy="1055.6" r="4.5"/><circle cx="500.0" cy="1051.1" r="4.5"/><circle cx="503.2" cy="1054.1" r="4.5"/><circle cx="506.4" cy="1050.6" r="4.5"/><circle cx="509.6" cy="1035.6" r="4.5"/><circle cx="512.8" cy="1033.6" r="4.5"/><circle cx="516.0" cy="975.5" r="4.5"/><circle cx="519.2" cy="1024.9" r="4.5"/><circle cx="522.3" cy="1034.6" r="4.5"/><circle cx="525.5" cy="1045.6" r="4.5"/><circle cx="528.7" cy="1044.1" r="4.5"/><circle cx="531.9" cy="966.5" r="4.5"/><circle cx="535.1" cy="1063.6" r="4.5"/><circle cx="538.3" cy="1060.6" r="4.5"/><circle cx="541.5" cy="1060.1" r="4.5"/><circle cx="544.7" cy="1060.1" r="4.5"/><circle cx="547.8" cy="1053.6" r="4.5"/><circle cx="551.0" cy="1046.6" r="4.5"/><circle cx="554.2" cy="1048.1" r="4.5"/><circle cx="560.6" cy="1038.6" r="4.5"/><circle cx="563.8" cy="1042.6" r="4.5"/><circle cx="567.0" cy="1047.6" r="4.5"/><circle cx="570.1" cy="1060.1" r="4.5"/><circle cx="573.3" cy="1060.1" r="4.5"/><circle cx="576.5" cy="1036.9" r="4.5"/><circle cx="579.7" cy="1050.1" r="4.5"/><circle cx="582.9" cy="1064.1" r="4.5"/><circle cx="586.1" cy="1045.4" r="4.5"/><circle cx="589.3" cy="1035.1" r="4.5"/><circle cx="592.5" cy="1054.6" r="4.5"/><circle cx="595.6" cy="1035.1" r="4.5"/><circle cx="598.8" cy="1040.6" r="4.5"/><circle cx="602.0" cy="1036.1" r="4.5"/><circle cx="605.2" cy="1032.6" r="4.5"/><circle cx="608.4" cy="1031.6" r="4.5"/><circle cx="611.6" cy="1042.1" r="4.5"/><circle cx="614.8" cy="1039.1" r="4.5"/><circle cx="618.0" cy="1036.6" r="4.5"/><circle cx="621.1" cy="1057.6" r="4.5"/><circle cx="624.3" cy="1024.9" r="4.5"/><circle cx="627.5" cy="1049.1" r="4.5"/><circle cx="630.7" cy="1060.1" r="4.5"/><circle cx="633.9" cy="1050.6" r="4.5"/><circle cx="637.1" cy="1049.1" r="4.5"/><circle cx="640.3" cy="1040.6" r="4.5"/><circle cx="643.4" cy="1025.1" r="4.5"/><circle cx="646.6" cy="1019.6" r="4.5"/><circle cx="649.8" cy="1011.3" r="4.5"/><circle cx="653.0" cy="1040.6" r="4.5"/><circle cx="656.2" cy="1055.6" r="4.5"/><circle cx="659.4" cy="1058.1" r="4.5"/><circle cx="675.3" cy="1060.6" r="4.5"/><circle cx="678.5" cy="1059.6" r="4.5"/><circle cx="681.7" cy="1039.6" r="4.5"/><circle cx="684.9" cy="1037.3" r="4.5"/><circle cx="688.1" cy="1027.9" r="4.5"/><circle cx="691.2" cy="1021.1" r="4.5"/><circle cx="694.4" cy="1020.1" r="4.5"/><circle cx="697.6" cy="1027.6" r="4.5"/><circle cx="700.8" cy="1030.6" r="4.5"/><circle cx="704.0" cy="1033.6" r="4.5"/><circle cx="707.2" cy="1064.1" r="4.5"/><circle cx="710.4" cy="1056.1" r="4.5"/><circle cx="713.6" cy="1053.1" r="4.5"/><circle cx="716.7" cy="1070.1" r="4.5"/><circle cx="719.9" cy="1053.1" r="4.5"/><circle cx="723.1" cy="1049.1" r="4.5"/><circle cx="726.3" cy="1041.6" r="4.5"/><circle cx="729.5" cy="1024.1" r="4.5"/><circle cx="732.7" cy="1019.1" r="4.5"/><circle cx="735.9" cy="1033.1" r="4.5"/><circle cx="739.0" cy="1020.6" r="4.5"/><circle cx="742.2" cy="1029.1" r="4.5"/><circle cx="745.4" cy="1024.1" r="4.5"/><circle cx="748.6" cy="1046.6" r="4.5"/><circle cx="751.8" cy="1060.6" r="4.5"/><circle cx="755.0" cy="1071.6" r="4.5"/><circle cx="761.4" cy="1064.1" r="4.5"/><circle cx="764.5" cy="1022.3" r="4.5"/><circle cx="767.7" cy="1042.1" r="4.5"/><circle cx="770.9" cy="1044.6" r="4.5"/><circle cx="774.1" cy="1029.6" r="4.5"/><circle cx="777.3" cy="999.2" r="4.5"/><circle cx="780.5" cy="990.2" r="4.5"/><circle cx="783.7" cy="1012.1" r="4.5"/><circle cx="786.8" cy="1020.6" r="4.5"/><circle cx="790.0" cy="1031.1" r="4.5"/><circle cx="793.2" cy="1028.6" r="4.5"/><circle cx="796.4" cy="1053.9" r="4.5"/><circle cx="799.6" cy="1066.6" r="4.5"/><circle cx="802.8" cy="1053.6" r="4.5"/><circle cx="806.0" cy="1020.3" r="4.5"/><circle cx="809.2" cy="1042.9" r="4.5"/><circle cx="812.3" cy="1036.6" r="4.5"/><circle cx="821.9" cy="1025.6" r="4.5"/><circle cx="825.1" cy="1029.6" r="4.5"/><circle cx="828.3" cy="1043.6" r="4.5"/><circle cx="831.5" cy="1039.6" r="4.5"/><circle cx="834.7" cy="1033.9" r="4.5"/><circle cx="837.8" cy="1036.3" r="4.5"/><circle cx="841.0" cy="1058.1" r="4.5"/><circle cx="844.2" cy="1056.6" r="4.5"/><circle cx="847.4" cy="864.1" r="4.5"/><circle cx="872.9" cy="1027.1" r="4.5"/><circle cx="876.1" cy="1033.6" r="4.5"/><circle cx="879.3" cy="1022.6" r="4.5"/><circle cx="882.5" cy="1045.9" r="4.5"/><circle cx="885.6" cy="1038.1" r="4.5"/><circle cx="888.8" cy="1054.6" r="4.5"/><circle cx="892.0" cy="1058.1" r="4.5"/><circle cx="895.2" cy="1054.6" r="4.5"/><circle cx="898.4" cy="1059.1" r="4.5"/><circle cx="901.6" cy="993.8" r="4.5"/><circle cx="904.8" cy="1043.4" r="4.5"/><circle cx="907.9" cy="1006.3" r="4.5"/><circle cx="911.1" cy="1022.6" r="4.5"/><circle cx="914.3" cy="1045.1" r="4.5"/><circle cx="917.5" cy="1047.6" r="4.5"/><circle cx="920.7" cy="1029.1" r="4.5"/><circle cx="923.9" cy="1052.6" r="4.5"/><circle cx="927.1" cy="1047.6" r="4.5"/><circle cx="930.3" cy="1052.1" r="4.5"/><circle cx="933.4" cy="1050.1" r="4.5"/><circle cx="936.6" cy="1073.6" r="4.5"/><circle cx="939.8" cy="1073.1" r="4.5"/><circle cx="943.0" cy="1068.1" r="4.5"/><circle cx="946.2" cy="1062.1" r="4.5"/><circle cx="949.4" cy="1056.6" r="4.5"/><circle cx="952.6" cy="1045.6" r="4.5"/><circle cx="955.7" cy="1041.6" r="4.5"/><circle cx="958.9" cy="1024.1" r="4.5"/><circle cx="962.1" cy="1034.1" r="4.5"/><circle cx="965.3" cy="1039.1" r="4.5"/><circle cx="968.5" cy="1030.6" r="4.5"/><circle cx="971.7" cy="1045.4" r="4.5"/><circle cx="974.9" cy="1057.1" r="4.5"/><circle cx="978.1" cy="1059.1" r="4.5"/><circle cx="981.2" cy="1059.1" r="4.5"/><circle cx="984.4" cy="1030.3" r="4.5"/><circle cx="987.6" cy="1051.9" r="4.5"/><circle cx="990.8" cy="1054.1" r="4.5"/><circle cx="994.0" cy="1043.6" r="4.5"/><circle cx="997.2" cy="1043.6" r="4.5"/><circle cx="1000.4" cy="990.2" r="4.5"/><circle cx="1003.5" cy="1028.1" r="4.5"/><circle cx="1006.7" cy="1039.1" r="4.5"/><circle cx="1009.9" cy="1055.1" r="4.5"/><circle cx="1013.1" cy="1012.1" r="4.5"/><circle cx="1016.3" cy="1031.4" r="4.5"/><circle cx="1019.5" cy="993.5" r="4.5"/><circle cx="1022.7" cy="1019.1" r="4.5"/><circle cx="1029.0" cy="1050.1" r="4.5"/><circle cx="1032.2" cy="1051.6" r="4.5"/><circle cx="1035.4" cy="1050.1" r="4.5"/><circle cx="1038.6" cy="1046.1" r="4.5"/><circle cx="1041.8" cy="1033.3" r="4.5"/><circle cx="1045.0" cy="1050.1" r="4.5"/><circle cx="1048.2" cy="1037.1" r="4.5"/><circle cx="1051.3" cy="1048.6" r="4.5"/><circle cx="1054.5" cy="1031.6" r="4.5"/><circle cx="1057.7" cy="1007.1" r="4.5"/><circle cx="1060.9" cy="1035.1" r="4.5"/><circle cx="1064.1" cy="1038.6" r="4.5"/><circle cx="1067.3" cy="1021.4" r="4.5"/><circle cx="1070.5" cy="1031.3" r="4.5"/><circle cx="1073.7" cy="1045.1" r="4.5"/><circle cx="1076.8" cy="1047.6" r="4.5"/><circle cx="1080.0" cy="1029.1" r="4.5"/><circle cx="1083.2" cy="1047.6" r="4.5"/><circle cx="1086.4" cy="1031.1" r="4.5"/><circle cx="1089.6" cy="1046.6" r="4.5"/><circle cx="1092.8" cy="1047.6" r="4.5"/><circle cx="1096.0" cy="1047.1" r="4.5"/><circle cx="1099.2" cy="1046.1" r="4.5"/><circle cx="1102.3" cy="1060.1" r="4.5"/><circle cx="1105.5" cy="1043.6" r="4.5"/><circle cx="1108.7" cy="1065.6" r="4.5"/><circle cx="1111.9" cy="1059.1" r="4.5"/><circle cx="1115.1" cy="1061.6" r="4.5"/><circle cx="1118.3" cy="1049.6" r="4.5"/><circle cx="1121.5" cy="915.8" r="4.5"/><circle cx="1124.6" cy="1021.1" r="4.5"/><circle cx="1127.8" cy="1040.6" r="4.5"/><circle cx="1131.0" cy="1041.6" r="4.5"/><circle cx="1134.2" cy="1052.6" r="4.5"/><circle cx="1137.4" cy="1056.6" r="4.5"/><circle cx="1140.6" cy="1044.6" r="4.5"/><circle cx="1143.8" cy="1056.1" r="4.5"/><circle cx="1147.0" cy="1055.6" r="4.5"/><circle cx="1162.9" cy="1037.1" r="4.5"/><circle cx="1166.1" cy="1034.1" r="4.5"/><circle cx="1169.3" cy="1025.9" r="4.5"/><circle cx="1172.4" cy="1041.6" r="4.5"/><circle cx="1175.6" cy="1046.6" r="4.5"/><circle cx="1178.8" cy="1051.1" r="4.5"/><circle cx="1182.0" cy="1054.1" r="4.5"/><circle cx="1185.2" cy="1059.6" r="4.5"/><circle cx="1188.4" cy="1065.1" r="4.5"/><circle cx="1191.6" cy="1066.6" r="4.5"/><circle cx="1194.8" cy="976.5" r="4.5"/><circle cx="1197.9" cy="1066.1" r="4.5"/><circle cx="1201.1" cy="1055.6" r="4.5"/><circle cx="1204.3" cy="1042.6" r="4.5"/><circle cx="1207.5" cy="986.5" r="4.5"/><circle cx="1210.7" cy="1030.6" r="4.5"/><circle cx="1213.9" cy="1034.1" r="4.5"/><circle cx="1217.1" cy="1027.6" r="4.5"/><circle cx="1220.2" cy="1035.6" r="4.5"/><circle cx="1223.4" cy="970.8" r="4.5"/><circle cx="1226.6" cy="1049.6" r="4.5"/><circle cx="1229.8" cy="1051.6" r="4.5"/><circle cx="1233.0" cy="1070.6" r="4.5"/><circle cx="1236.2" cy="1053.1" r="4.5"/><circle cx="1239.4" cy="1044.6" r="4.5"/><circle cx="1242.6" cy="1035.6" r="4.5"/><circle cx="1245.7" cy="1027.3" r="4.5"/><circle cx="1248.9" cy="1036.1" r="4.5"/><circle cx="1252.1" cy="1018.6" r="4.5"/><circle cx="1255.3" cy="1028.1" r="4.5"/><circle cx="1258.5" cy="1018.6" r="4.5"/><circle cx="1261.7" cy="1038.1" r="4.5"/><circle cx="1264.9" cy="1020.1" r="4.5"/><circle cx="1268.0" cy="1033.1" r="4.5"/><circle cx="1271.2" cy="1058.6" r="4.5"/><circle cx="1274.4" cy="1050.6" r="4.5"/><circle cx="1277.6" cy="1055.1" r="4.5"/><circle cx="1280.8" cy="1073.6" r="4.5"/><circle cx="1284.0" cy="1071.1" r="4.5"/><circle cx="1287.2" cy="1062.1" r="4.5"/><circle cx="1290.4" cy="1051.6" r="4.5"/><circle cx="1293.5" cy="1040.1" r="4.5"/><circle cx="1296.7" cy="983.3" r="4.5"/><circle cx="1299.9" cy="1015.1" r="4.5"/><circle cx="1303.1" cy="1027.1" r="4.5"/><circle cx="1306.3" cy="1023.1" r="4.5"/><circle cx="1309.5" cy="1029.6" r="4.5"/><circle cx="1315.8" cy="1043.9" r="4.5"/><circle cx="1319.0" cy="1007.1" r="4.5"/><circle cx="1322.2" cy="1052.1" r="4.5"/><circle cx="1325.4" cy="1068.1" r="4.5"/><circle cx="1328.6" cy="1050.1" r="4.5"/><circle cx="1331.8" cy="1050.1" r="4.5"/><circle cx="1335.0" cy="1034.1" r="4.5"/><circle cx="1338.2" cy="1027.6" r="4.5"/><circle cx="1341.3" cy="1020.6" r="4.5"/><circle cx="1344.5" cy="1027.6" r="4.5"/><circle cx="1347.7" cy="1024.6" r="4.5"/><circle cx="1350.9" cy="999.2" r="4.5"/><circle cx="1354.1" cy="997.0" r="4.5"/><circle cx="1357.3" cy="1040.1" r="4.5"/></g>
<rect x="197.35" y="692.00" width="1274.65" height="439.00" fill="none" stroke="#262626" stroke-opacity="1" stroke-width="1.4"/>
<path d="M197.35 1131.00 v-13.3 M197.35 692.00 v13.3 M516.01 1131.00 v-13.3 M516.01 692.00 v13.3 M834.68 1131.00 v-13.3 M834.68 692.00 v13.3 M1153.34 1131.00 v-13.3 M1153.34 692.00 v13.3 M1472.00 1131.00 v-13.3 M1472.00 692.00 v13.3 M197.35 1131.00 h13.3 M1472.00 1131.00 h-13.3 M197.35 984.67 h13.3 M1472.00 984.67 h-13.3 M197.35 838.33 h13.3 M1472.00 838.33 h-13.3 M197.35 692.00 h13.3 M1472.00 692.00 h-13.3" stroke="#262626" stroke-opacity="1" stroke-width="1.5" fill="none"/>
<text class="tk" x="196.0" y="1205.2" text-anchor="middle">0</text>
<text class="tk" x="514.7" y="1205.2" text-anchor="middle">100</text>
<text class="tk" x="833.4" y="1205.2" text-anchor="middle">200</text>
<text class="tk" x="1152.0" y="1205.2" text-anchor="middle">300</text>
<text class="tk" x="1470.7" y="1205.2" text-anchor="middle">400</text>
<text class="tk" x="179.0" y="1152.6" text-anchor="end">0</text>
<text class="tk" x="179.0" y="1006.3" text-anchor="end">10</text>
<text class="tk" x="179.0" y="859.9" text-anchor="end">20</text>
<text class="tk" x="179.0" y="713.6" text-anchor="end">30</text>
<text class="lb" transform="translate(90.3 912.9) rotate(-90)" text-anchor="middle">RMS[mm]</text>
<rect x="319.5" y="713.5" width="1131" height="73.3" fill="#ffffff" stroke="#262626" stroke-width="1.2"/>
<circle class="r" cx="366.7" cy="750.2" r="4.5"/>
<text class="lg" x="411.9" y="769.4">GRCD WithPCV=5.9mm</text>
<circle class="b" cx="1034.5" cy="750.2" r="4.5"/>
<text class="lg" x="1079.8" y="769.4">NoPCV=6.4mm</text>
</g>
<text class="lb" x="834.6" y="1286.6" text-anchor="middle">DOY</text>
</svg></body></html>
